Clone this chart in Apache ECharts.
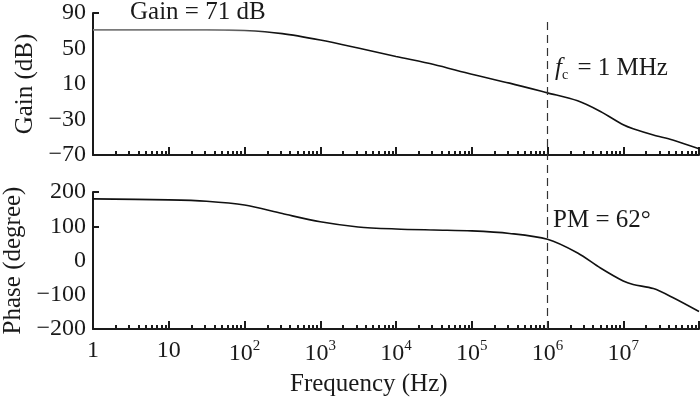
<!DOCTYPE html>
<html>
<head>
<meta charset="utf-8">
<script src="https://cdn.jsdelivr.net/npm/echarts@6/dist/echarts.min.js"></script>
<style>
  html, body { margin: 0; padding: 0; background: #fff; }
  #bode { width: 700px; height: 399px; }
</style>
</head>
<body>
<div id="bode"></div>
<script>
// frequencies in Hz
const freqs = [1, 10, 31.6, 100, 316, 1000, 3160, 1e4, 3.16e4, 1e5, 3.16e5, 1e6,
  2.5e6, 5e6, 1e7, 1.35e7, 2.5e7, 4.5e7, 1e8];
const gainDb = [71, 71, 71, 70.3, 66.8, 59.5, 50.5, 41, 32, 21, 11, 0,
  -9, -21, -36, -40.5, -47.5, -53, -63];
const phaseDeg = [180, 177, 173, 162, 137, 113, 98, 92, 89, 86.5, 79, 62,
  22, -22, -60, -70, -82, -108, -149];

const decadeTicks = [1, 10, 100, 1e3, 1e4, 1e5, 1e6, 1e7, 1e8];
const decadeLabels = [1, 10, 100, 1e3, 1e4, 1e5, 1e6, 1e7];
const minorTicks = [];
[1, 10, 100, 1e3, 1e4, 1e5, 1e6, 1e7].forEach(d => {
  [2, 3, 4, 5, 6, 7, 8, 9].forEach(m => minorTicks.push(m * d));
});
const gainTicks = [-70, -30, 10, 50, 90];
const phaseTicks = [-200, -100, 0, 100, 200];
const crossoverHz = 1e6;

const serif = 'Liberation Serif';
const ink = '#1a1a1a';
const fs = 25;

const fmtTick = v => {
  if (v < 1.5) return '{b|1}';
  if (v < 15) return '{b|10}';
  return '{b|10}{s|' + Math.round(Math.log10(v)) + '}';
};

const axisLine = { show: true, onZero: false, lineStyle: { color: ink, width: 2 } };

function mainX(grid, showLabel) {
  return {
    type: 'log', gridIndex: grid, position: 'bottom', min: 1, max: 1e8, logBase: 10,
    axisLine: axisLine,
    splitLine: { show: false },
    axisTick: { show: true, inside: true, length: 8, customValues: decadeTicks,
      lineStyle: { color: ink, width: 2 } },
    axisLabel: { show: showLabel, customValues: decadeLabels, formatter: fmtTick,
      margin: 10, align: 'center',
      rich: {
        b: { fontSize: 24, fontFamily: serif, color: ink },
        s: { fontSize: 15, fontFamily: serif, color: ink, padding: [0, 0, 14, 0] }
      } }
  };
}
function minorX(grid) {
  return {
    type: 'log', gridIndex: grid, position: 'bottom', min: 1, max: 1e8, logBase: 10,
    axisLine: { show: false, onZero: false },
    splitLine: { show: false },
    axisTick: { show: true, inside: true, length: 4, customValues: minorTicks,
      lineStyle: { color: ink, width: 2 } },
    axisLabel: { show: false }
  };
}

const options = {
  animation: false,
  backgroundColor: '#fff',
  title: [
    { text: 'Gain = 71 dB', left: 130, top: 0, padding: 0,
      textStyle: { fontFamily: serif, fontSize: fs, fontWeight: 'normal', color: ink } },
    { text: '{i|f}{c|c} = 1 MHz', left: 555, top: 54, padding: 0,
      textStyle: { fontFamily: serif, fontSize: fs, fontWeight: 'normal', color: ink,
        rich: {
          i: { fontFamily: serif, fontSize: fs, fontStyle: 'italic', color: ink },
          c: { fontFamily: serif, fontSize: 14, color: ink, padding: [14, 3, 0, 0] }
        } } },
    { text: 'PM = 62°', left: 553, top: 208, padding: 0,
      textStyle: { fontFamily: serif, fontSize: fs, fontWeight: 'normal', color: ink } },
    { text: 'Frequency (Hz)', left: 290, top: 372, padding: 0,
      textStyle: { fontFamily: serif, fontSize: fs, fontWeight: 'normal', color: ink } }
  ],
  grid: [
    { left: 93, right: 1, top: 13, height: 142, containLabel: false, outerBoundsMode: 'none' },
    { left: 93, right: 1, top: 192, height: 137, containLabel: false, outerBoundsMode: 'none' },
    { left: 93, right: 1, top: 18, height: 311, containLabel: false, outerBoundsMode: 'none' }
  ],
  xAxis: [
    mainX(0, false), minorX(0),
    mainX(1, true), minorX(1),
    { type: 'log', gridIndex: 2, min: 1, max: 1e8, show: false }
  ],
  yAxis: [
    {
      type: 'value', gridIndex: 0, min: -70, max: 90,
      name: 'Gain (dB)', nameLocation: 'middle', nameGap: 55,
      nameTextStyle: { fontFamily: serif, fontSize: fs, color: ink },
      axisLine: axisLine,
      splitLine: { show: false },
      axisTick: { show: true, inside: true, length: 6, customValues: [90],
        lineStyle: { color: ink, width: 2 } },
      axisLabel: { customValues: gainTicks, margin: 7, color: ink, fontFamily: serif, fontSize: 24,
        formatter: v => String(v).replace('-', '\u2212') }
    },
    {
      type: 'value', gridIndex: 1, min: -200, max: 200, interval: 100,
      name: 'Phase (degree)', nameLocation: 'middle', nameGap: 67,
      nameTextStyle: { fontFamily: serif, fontSize: fs, color: ink },
      axisLine: axisLine,
      splitLine: { show: false },
      axisTick: { show: true, inside: true, length: 6, customValues: [200, 100],
        lineStyle: { color: ink, width: 2 } },
      axisLabel: { customValues: phaseTicks, margin: 7, color: ink, fontFamily: serif, fontSize: 24,
        formatter: v => String(v).replace('-', '\u2212') }
    },
    { type: 'value', gridIndex: 2, min: 0, max: 1, show: false }
  ],
  series: [
    {
      name: 'Gain', type: 'line', xAxisIndex: 0, yAxisIndex: 0,
      data: freqs.map((f, i) => [f, gainDb[i]]),
      smooth: 0.3, showSymbol: false,
      lineStyle: {
        width: 1.6,
        color: {
          type: 'linear', x: 0, y: 0, x2: 1, y2: 0,
          colorStops: [
            { offset: 0, color: '#7a7a7a' },
            { offset: 0.22, color: '#7a7a7a' },
            { offset: 0.3, color: '#111' },
            { offset: 1, color: '#111' }
          ]
        }
      }
    },
    {
      name: 'Phase', type: 'line', xAxisIndex: 2, yAxisIndex: 1,
      data: freqs.map((f, i) => [f, phaseDeg[i]]),
      smooth: 0.3, showSymbol: false,
      lineStyle: { width: 1.6, color: '#111' }
    },
    {
      name: 'fc', type: 'line', xAxisIndex: 4, yAxisIndex: 2, data: [],
      markLine: {
        silent: true, symbol: 'none', label: { show: false },
        lineStyle: { color: '#333', width: 1.2, type: [8, 5] },
        data: [{ xAxis: crossoverHz }]
      }
    }
  ]
};

const chart = echarts.init(document.getElementById('bode'));
chart.setOption(options);
window.addEventListener('resize', () => chart.resize(), false);
</script>
</body>
</html>
